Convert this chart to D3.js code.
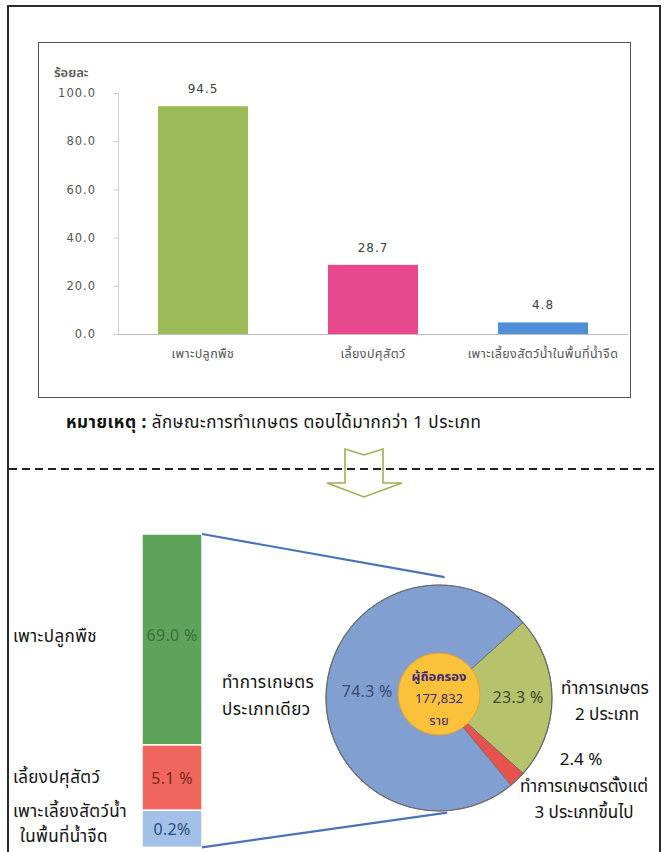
<!DOCTYPE html>
<html><head><meta charset="utf-8">
<script src="https://cdn.jsdelivr.net/npm/d3@7"></script>
<style>
html,body{margin:0;padding:0;background:#fff;}
svg{display:block;}
text{font-family:"Noto Sans Thai","Tahoma","Leelawadee UI","Noto Sans","DejaVu Sans",sans-serif;}
.num{font-family:"DejaVu Sans","Verdana",sans-serif;}
</style></head>
<body>
<script>
// ---- data: top bar chart ----
const barCategories = ["เพาะปลูกพืช", "เลี้ยงปศุสัตว์", "เพาะเลี้ยงสัตว์น้ำในพื้นที่น้ำจืด"];
const barValues = [94.5, 28.7, 4.8];
const barColors = ["#9bbb59", "#e8488d", "#4f8fd8"];
const yTicks = [0, 20, 40, 60, 80, 100];
const yAxisTitle = "ร้อยละ";
const noteBold = "หมายเหตุ :";
const noteText = " ลักษณะการทำเกษตร ตอบได้มากกว่า 1 ประเภท";

// ---- data: single-type stacked bar ----
const stackCategories = ["เพาะปลูกพืช", "เลี้ยงปศุสัตว์", "เพาะเลี้ยงสัตว์น้ำ|ในพื้นที่น้ำจืด"];
const stackValues = [69.0, 5.1, 0.2];
const stackLabels = ["69.0 %", "5.1 %", "0.2%"];
const stackColors = ["#5ea35a", "#f0655d", "#a3c0e8"];
const stackTextColors = ["#3f6f3a", "#7a2a1e", "#2f4a78"];

// ---- data: donut ----
const pieCategories = ["ทำการเกษตรประเภทเดียว", "ทำการเกษตร 2 ประเภท", "ทำการเกษตรตั้งแต่ 3 ประเภทขึ้นไป"];
const pieValues = [74.3, 23.3, 2.4];
const pieLabels = ["74.3 %", "23.3 %", "2.4 %"];
const pieColors = ["#829fd2", "#b6c26c", "#e8524c"];
const centerLines = ["ผู้ถือครอง", "177,832", "ราย"];

const W = 671, H = 852;
const svg = d3.select("body").append("svg").attr("width", W).attr("height", H);

// outer frame
svg.append("path").attr("d", `M8,${H} V6 H660 V${H}`).attr("fill","none").attr("stroke","#2b2b2b").attr("stroke-width",2);
// inner chart box
svg.append("rect").attr("x",38.5).attr("y",42.5).attr("width",592).attr("height",355).attr("fill","#fff").attr("stroke","#555").attr("stroke-width",1);

// ---- top bar chart ----
const x = d3.scaleBand().domain(barCategories).range([118, 628]).paddingInner(0.47).paddingOuter(0.235);
const y = d3.scaleLinear().domain([0, 100]).range([334, 93]);

const yAxis = d3.axisLeft(y).tickValues(yTicks).tickFormat(d3.format(".1f")).tickSize(5).tickPadding(17);
const gy = svg.append("g").attr("transform","translate(118,0)").call(yAxis);
gy.select(".domain").attr("stroke","#d0d0d0");
gy.selectAll(".tick line").attr("stroke","#d0d0d0");
gy.selectAll(".tick text").attr("class","num").attr("fill","#555").style("font-size","11.5px").style("letter-spacing","1px");

svg.append("text").attr("x",54).attr("y",77).attr("fill","#555").attr("font-weight","600").style("font-size","13px").text(yAxisTitle);

svg.selectAll("rect.bar").data(barValues).join("rect").attr("class","bar")
  .attr("x",(d,i)=>x(barCategories[i])).attr("width",x.bandwidth())
  .attr("y",d=>y(d)).attr("height",d=>y(0)-y(d)).attr("fill",(d,i)=>barColors[i]);

svg.append("line").attr("x1",118).attr("x2",628).attr("y1",y(0)+0.5).attr("y2",y(0)+0.5).attr("stroke","#bfbfbf");

svg.selectAll("text.val").data(barValues).join("text").attr("class","num val")
  .attr("x",(d,i)=>x(barCategories[i])+x.bandwidth()/2).attr("y",d=>y(d)-13)
  .attr("text-anchor","middle").attr("fill","#404040").style("font-size","12px").style("letter-spacing","1px")
  .text(d=>d.toFixed(1));

svg.selectAll("text.cat").data(barCategories).join("text").attr("class","cat")
  .attr("x",d=>x(d)+x.bandwidth()/2).attr("y",358).attr("text-anchor","middle")
  .attr("fill","#555").style("font-size","12.5px").style("letter-spacing","0.4px").text(d=>d);

// note
const note = svg.append("text").attr("x",66).attr("y",428).attr("fill","#111").style("font-size","17px").style("letter-spacing","0.5px");
note.append("tspan").attr("font-weight","bold").text(noteBold);
note.append("tspan").text(noteText);

// dashed separator
svg.append("line").attr("x1",9).attr("x2",659).attr("y1",469).attr("y2",469)
  .attr("stroke","#222").attr("stroke-width",2).attr("stroke-dasharray","8,5");

// hollow arrow
const arrow = d3.path();
arrow.moveTo(345,449); arrow.lineTo(364,455); arrow.lineTo(383,449); arrow.lineTo(383,483);
arrow.lineTo(402,483); arrow.lineTo(364,497); arrow.lineTo(327,483); arrow.lineTo(345,483); arrow.closePath();
svg.append("path").attr("d",arrow.toString()).attr("fill","none").attr("stroke","#a3ad55").attr("stroke-width",1.6);

// ---- stacked bar ----
const barX = 142, barW = 60, barTop = 534;
const hScale = d3.scalePow().exponent(0.45).domain([0, d3.max(stackValues)]).range([0, 211]);
let acc = barTop;
const segs = stackValues.map((v,i)=>{ const h = Math.max(37, hScale(v)); const s = {y:acc, h, i}; acc += h; return s; });
svg.selectAll("rect.seg").data(segs).join("rect").attr("class","seg")
  .attr("x",barX).attr("width",barW).attr("y",d=>d.y).attr("height",d=>d.h)
  .attr("fill",d=>stackColors[d.i]).attr("stroke","#fff").attr("stroke-width",1.5);
svg.selectAll("text.segv").data(segs).join("text").attr("class","segv")
  .attr("x",barX+barW/2).attr("y",(d,i)=> i===0 ? d.y+d.h/2+1 : d.y+d.h/2+6).attr("text-anchor","middle")
  .attr("fill",d=>stackTextColors[d.i]).style("font-size","16px").style("letter-spacing","0.3px").text(d=>stackLabels[d.i]);

// left labels
const leftY = [segs[0].y+segs[0].h/2+2, 783, 817];
stackCategories.forEach((c,i)=>{
  const lines = c.split("|");
  lines.forEach((ln,j)=>{
    svg.append("text").attr("x", j===0 ? 13 : 20).attr("y", leftY[i] + j*25).attr("fill","#111")
      .style("font-size","17px").style("letter-spacing","0.4px").text(ln);
  });
});

// single-type label
svg.append("text").attr("x",222).attr("y",688).attr("fill","#111").style("font-size","17px").style("letter-spacing","0.5px").text("ทำการเกษตร");
svg.append("text").attr("x",222).attr("y",715).attr("fill","#111").style("font-size","17px").style("letter-spacing","0.5px").text("ประเภทเดียว");

// ---- donut ----
const cx = 439, cy = 698, R = 113, r0 = 41;
const pie = d3.pie().sort(null).startAngle(48*Math.PI/180).endAngle(48*Math.PI/180 + 2*Math.PI);
const order = [1, 2, 0];
const arcs = pie(order.map(k=>pieValues[k])).map((a,j)=>({...a, k: order[j]}));
const arc = d3.arc().innerRadius(0).outerRadius(R);
const labArc = d3.arc().innerRadius(77).outerRadius(77);

// connector lines
const topAng = -3*Math.PI/180, botAng = 185*Math.PI/180;
svg.append("line").attr("x1",barX+barW).attr("y1",barTop).attr("x2",cx+(R+10)*Math.sin(topAng)+12).attr("y2",cy-(R+10)*Math.cos(topAng)+2)
  .attr("stroke","#4a72b8").attr("stroke-width",2.2);
svg.append("line").attr("x1",barX+barW).attr("y1",acc).attr("x2",cx+(R)*Math.sin(botAng)+18).attr("y2",cy-(R)*Math.cos(botAng)+2)
  .attr("stroke","#4a72b8").attr("stroke-width",2.2);

const g = svg.append("g").attr("transform",`translate(${cx},${cy})`);
g.selectAll("path").data(arcs).join("path").attr("d",arc).attr("fill",d=>pieColors[d.k])
  .attr("stroke","#6b6b6b").attr("stroke-width",0.8);
g.append("circle").attr("r",R).attr("fill","none").attr("stroke","#6b6b6b").attr("stroke-width",1.2);
g.append("circle").attr("cx",0).attr("cy",-4).attr("r",r0).attr("fill","#fbc13b").attr("stroke","#e8a42a").attr("stroke-width",1);

g.selectAll("text.pl").data(arcs.filter(d=>d.k!==2)).join("text").attr("class","pl")
  .attr("x",d=>labArc.centroid(d)[0]+(d.k===0?5:2)).attr("y",d=>labArc.centroid(d)[1]+5).attr("text-anchor","middle")
  .attr("fill",d=>d.k===0?"#3b4868":"#3f4a2a").style("font-size","16px").style("letter-spacing","0.3px").text(d=>pieLabels[d.k]);

centerLines.forEach((t,i)=>{
  g.append("text").attr("x",0).attr("y",-17+i*22).attr("text-anchor","middle")
    .attr("fill","#3a2a78").attr("font-weight", i===0?"bold":"normal").style("font-size","13px").text(t);
});

// right labels
const rl = [
  {t:"ทำการเกษตร", x:605, y:694},
  {t:"2 ประเภท", x:607, y:720},
  {t:pieLabels[2], x:581, y:765},
  {t:"ทำการเกษตรตั้งแต่", x:584, y:792},
  {t:"3 ประเภทขึ้นไป", x:584, y:818}
];
rl.forEach(d=>svg.append("text").attr("x",d.x).attr("y",d.y).attr("text-anchor","middle").attr("fill","#111").style("font-size","17px").text(d.t));
</script>
</body></html>
